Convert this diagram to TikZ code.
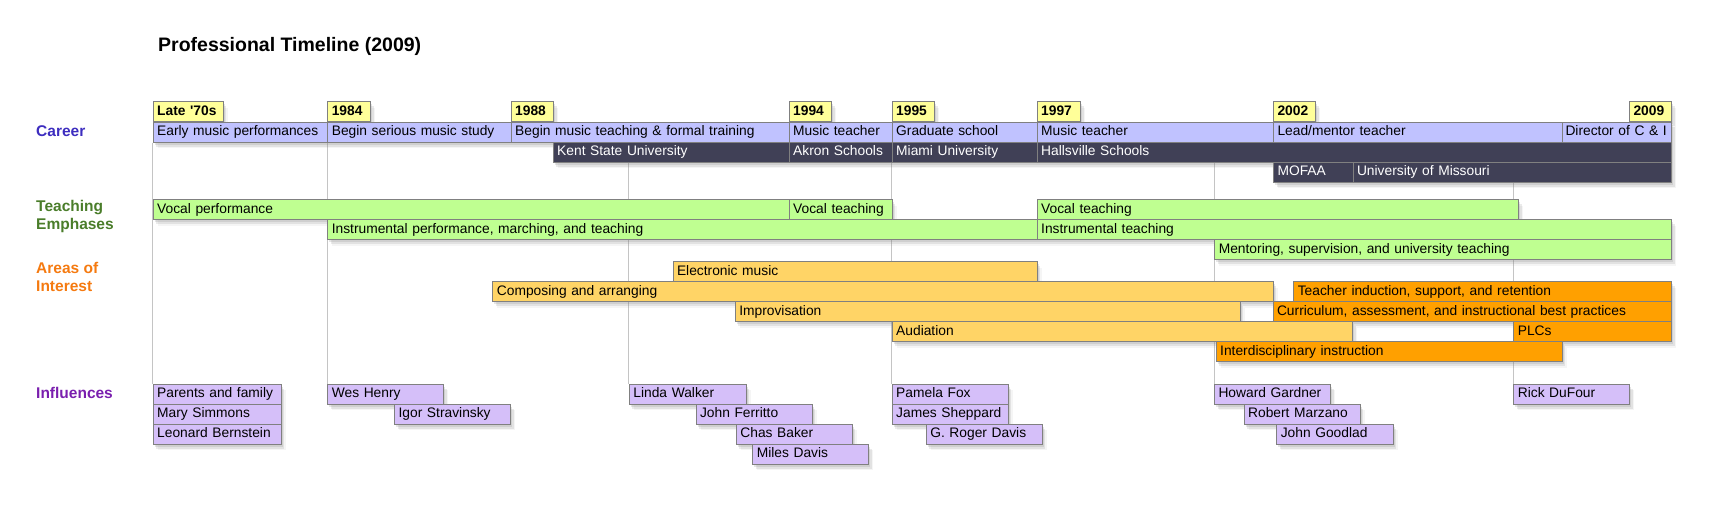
\documentclass[tikz,border=0pt]{standalone}
\usepackage{fontspec}
\setmainfont{Liberation Sans}
\usetikzlibrary{shadows}
\pgfdeclarelayer{background}
\pgfsetlayers{background,main}
\definecolor{yearfill}{HTML}{FFFF99}
\definecolor{careerfill}{HTML}{C0C2FF}
\definecolor{darkfill}{HTML}{404056}
\definecolor{greenfill}{HTML}{BFFF91}
\definecolor{lightorange}{HTML}{FFD466}
\definecolor{darkorange}{HTML}{FFA000}
\definecolor{inflfill}{HTML}{D5BFF9}
\definecolor{bordergray}{HTML}{808080}
\definecolor{gridgray}{HTML}{C4C4C4}
\definecolor{careerlbl}{HTML}{3D2DBF}
\definecolor{teachlbl}{HTML}{4A7D2A}
\definecolor{areaslbl}{HTML}{F57A10}
\definecolor{infllbl}{HTML}{7A1FAE}
\newcommand{\tb}[6]{\pgfmathsetmacro{\tbw}{#4-#3-8}\node[#1, text width=\tbw pt] (#2) at (#3,#5) {\mbox{#6}};}
\tikzset{
  box/.style={draw=bordergray, line width=1pt, minimum height=20pt, inner xsep=4pt, inner ysep=0pt,
    text height=10pt, text depth=3pt, align=left, anchor=north west,
    font=\fontsize{13.8}{16}\selectfont,
    drop shadow={shadow xshift=1.5pt, shadow yshift=-2.5pt, opacity=0.2},
    drop shadow={shadow xshift=3pt, shadow yshift=-4.5pt, opacity=0.16},
    drop shadow={shadow xshift=4.5pt, shadow yshift=-6pt, opacity=0.08}},
  yearbox/.style={box, fill=yearfill, font=\bfseries\fontsize{13.8}{16}\selectfont},
  careerbox/.style={box, fill=careerfill},
  darkbox/.style={box, fill=darkfill, text=white, font=\fontsize{13.8}{16}\selectfont},
  greenbox/.style={box, fill=greenfill},
  lobox/.style={box, fill=lightorange},
  dobox/.style={box, fill=darkorange},
  inflbox/.style={box, fill=inflfill},
  catlabel/.style={anchor=west, align=left, inner sep=0pt, font=\bfseries\fontsize{15.5}{18}\selectfont},
  gridline/.style={draw=gridgray, line width=1pt},
}
\begin{document}
\begin{tikzpicture}[x=1pt, y=-1pt]
\useasboundingbox (0,0) rectangle (1712,509);
% title
\node[anchor=west, inner sep=0pt, font=\bfseries\fontsize{19.5}{22}\selectfont] (title) at (158,46) {Professional Timeline (2009)};
% category labels
\node[catlabel, text=careerlbl] (lcareer) at (36,131) {Career};
\node[catlabel, text=teachlbl] (lteach) at (36,216.5) {Teaching\\Emphases};
\node[catlabel, text=areaslbl] (lareas) at (36,277) {Areas of\\Interest};
\node[catlabel, text=infllbl] (linfl) at (36,393) {Influences};
% year boxes
\tb{yearbox}{y70}{152.7}{222.5}{101}{Late \textquotesingle 70s}
\tb{yearbox}{y84}{327.3}{370}{101}{1984}
\tb{yearbox}{y88}{510.7}{553}{101}{1988}
\tb{yearbox}{y94}{788.7}{831.3}{101}{1994}
\tb{yearbox}{y95}{891.7}{934.3}{101}{1995}
\tb{yearbox}{y97}{1036.7}{1080}{101}{1997}
\tb{yearbox}{y02}{1273}{1315}{101}{2002}
\tb{yearbox}{y09}{1629}{1671}{101}{2009}
% career row
\tb{careerbox}{c1}{152.7}{327.3}{121.5}{Early music performances}
\tb{careerbox}{c2}{327.3}{510.7}{121.5}{Begin serious music study}
\tb{careerbox}{c3}{510.7}{788.7}{121.5}{Begin music teaching \& formal training}
\tb{careerbox}{c4}{788.7}{891.7}{121.5}{Music teacher}
\tb{careerbox}{c5}{891.7}{1036.7}{121.5}{Graduate school}
\tb{careerbox}{c6}{1036.7}{1273}{121.5}{Music teacher}
\tb{careerbox}{c7}{1273}{1562}{121.5}{Lead/mentor teacher}
\tb{careerbox, inner xsep=3pt}{c8}{1562}{1673}{121.5}{Director of C \& I}
% dark rows
\tb{darkbox}{d1}{552.7}{788.7}{141.5}{Kent State University}
\tb{darkbox}{d2}{788.7}{891.7}{141.5}{Akron Schools}
\tb{darkbox}{d3}{891.7}{1036.7}{141.5}{Miami University}
\tb{darkbox}{d4}{1036.7}{1671}{141.5}{Hallsville Schools}
\tb{darkbox}{d5}{1273}{1352.5}{161.5}{MOFAA}
\tb{darkbox}{d6}{1352.5}{1671}{161.5}{University of Missouri}
% teaching emphases
\tb{greenbox}{t1}{152.7}{788.7}{199}{Vocal performance}
\tb{greenbox}{t2}{788.7}{891.7}{199}{Vocal teaching}
\tb{greenbox}{t3}{1036.7}{1518.3}{199}{Vocal teaching}
\tb{greenbox}{t4}{327.3}{1036.7}{219}{Instrumental performance, marching, and teaching}
\tb{greenbox}{t5}{1036.7}{1671}{219}{Instrumental teaching}
\tb{greenbox}{t6}{1214.3}{1671}{239}{Mentoring, supervision, and university teaching}
% areas of interest
\tb{lobox}{a1}{672.5}{1036.7}{261}{Electronic music}
\tb{lobox}{a2}{492.4}{1272.5}{281}{Composing and arranging}
\tb{dobox}{a3}{1293.3}{1671}{281}{Teacher induction, support, and retention}
\tb{lobox}{a4}{734.8}{1239.5}{301}{Improvisation}
\tb{dobox}{a5}{1272.5}{1671}{301}{Curriculum, assessment, and instructional best practices}
\tb{lobox}{a6}{891.7}{1352.3}{321}{Audiation}
\tb{dobox}{a7}{1513.3}{1671}{321}{PLCs}
\tb{dobox}{a8}{1215.7}{1561.7}{341}{Interdisciplinary instruction}
% influences
\tb{inflbox}{parents}{152.7}{280.6}{383.5}{Parents and family}
\tb{inflbox}{mary}{152.7}{280.6}{403.5}{Mary Simmons}
\tb{inflbox}{leonard}{152.7}{280.6}{423.5}{Leonard Bernstein}
\tb{inflbox}{wes}{327.3}{443.3}{383.5}{Wes Henry}
\tb{inflbox}{igor}{394.1}{510}{403.5}{Igor Stravinsky}
\tb{inflbox}{linda}{628.9}{745.7}{383.5}{Linda Walker}
\tb{inflbox}{ferritto}{695.5}{811.5}{403.5}{John Ferritto}
\tb{inflbox}{chas}{735.9}{851.8}{423.5}{Chas Baker}
\tb{inflbox}{miles}{752.3}{868.2}{443.5}{Miles Davis}
\tb{inflbox}{pamela}{891.7}{1007.7}{383.5}{Pamela Fox}
\tb{inflbox}{james}{891.7}{1007.7}{403.5}{James Sheppard}
\tb{inflbox}{roger}{925.8}{1041.7}{423.5}{G. Roger Davis}
\tb{inflbox}{howard}{1214}{1330}{383.5}{Howard Gardner}
\tb{inflbox}{marzano}{1243.6}{1359.5}{403.5}{Robert Marzano}
\tb{inflbox}{goodlad}{1276.3}{1392.5}{423.5}{John Goodlad}
\tb{inflbox}{rick}{1513.3}{1629.3}{383.5}{Rick DuFour}
% grid lines
\coordinate (g3) at (628.9,161.5);
\coordinate (g5) at (1214,161.5);
\coordinate (g6) at (1513.3,181.5);
\begin{pgfonlayer}{background}
\draw[gridline] (c1.south west) -- (parents.north west);
\draw[gridline] (c2.south west) -- (wes.north west);
\draw[gridline] (g3) -- (linda.north west);
\draw[gridline] (d3.south west) -- (pamela.north west);
\draw[gridline] (g5) -- (howard.north west);
\draw[gridline] (g6) -- (rick.north west);
\end{pgfonlayer}
\end{tikzpicture}
\end{document}
